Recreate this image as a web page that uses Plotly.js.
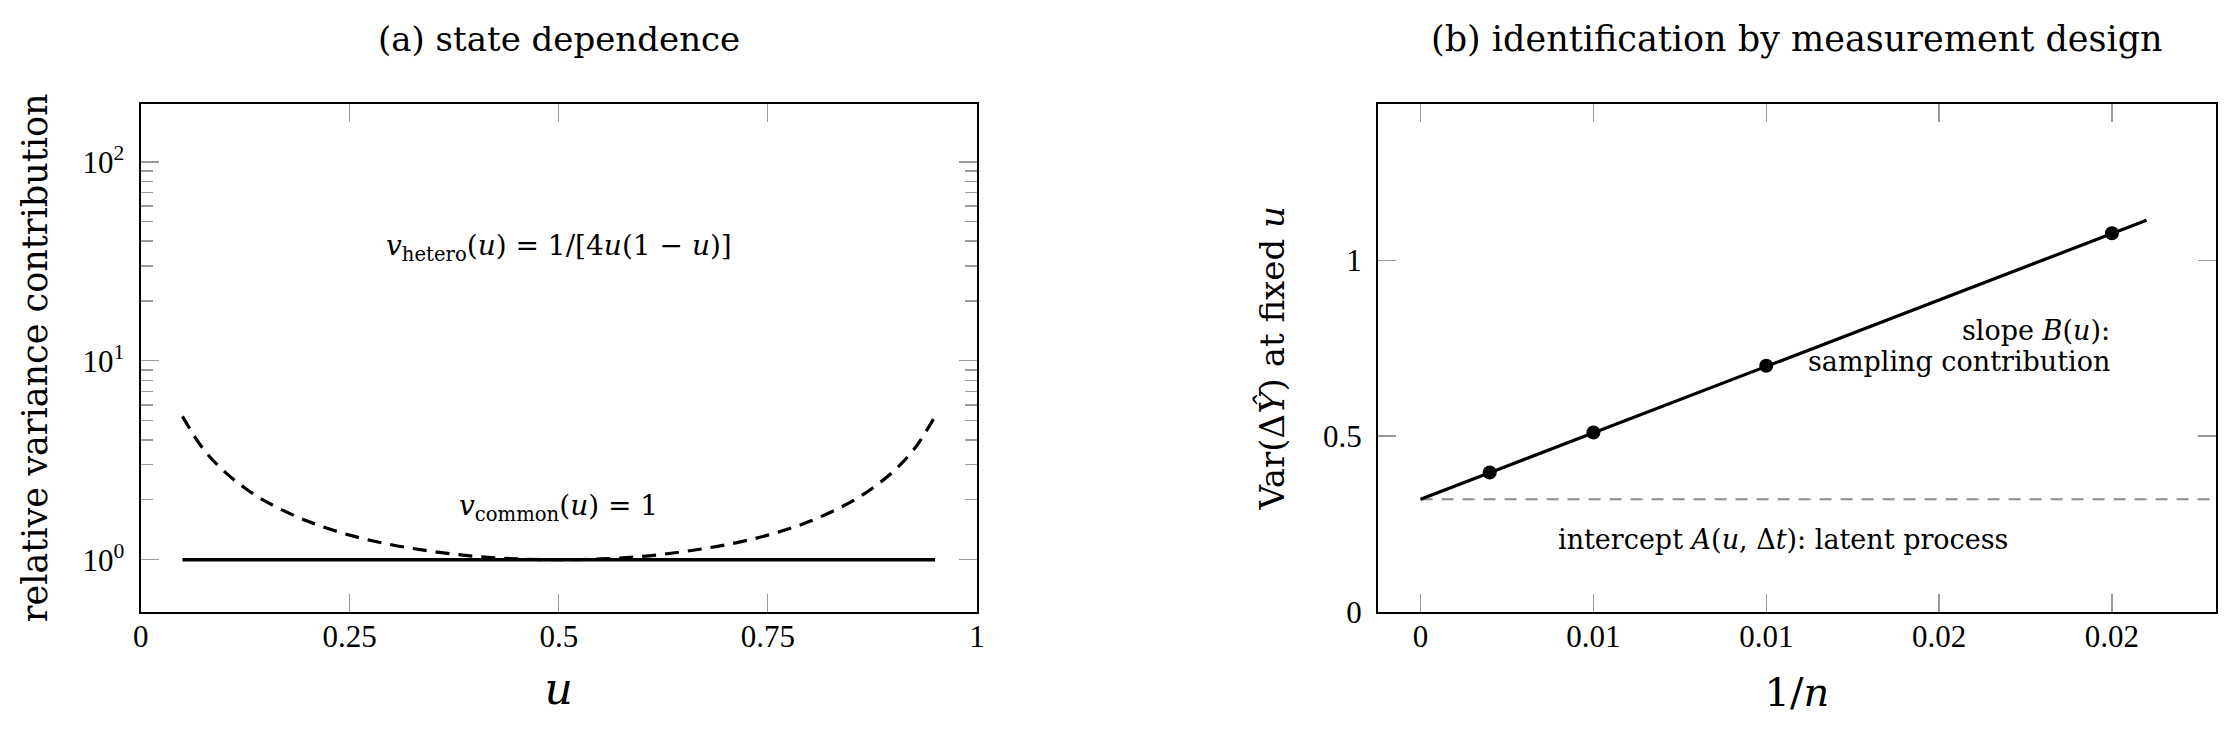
<!DOCTYPE html>
<html>
<head>
<meta charset="utf-8">
<script src="https://cdn.plot.ly/plotly-3.0.1.min.js"></script>
<style>
  html, body { margin: 0; padding: 0; background: #fff; }
  #chart { width: 2236px; height: 733px; }
</style>
</head>
<body>
<div id="chart"></div>
<script>
// (a) state dependence: values
var uVals = [0.05, 0.075, 0.1, 0.125, 0.15, 0.2, 0.25, 0.3, 0.35, 0.4, 0.45, 0.5,
             0.55, 0.6, 0.65, 0.7, 0.75, 0.8, 0.85, 0.875, 0.9, 0.925, 0.95];
var vHetero = [5.26, 3.60, 2.78, 2.29, 1.96, 1.56, 1.33, 1.19, 1.10, 1.04, 1.01, 1.00,
               1.01, 1.04, 1.10, 1.19, 1.33, 1.56, 1.96, 2.29, 2.78, 3.60, 5.26];
var uCommon = [0.05, 0.95];
var vCommon = [1, 1];

// (b) identification by measurement design
var invN = [0.002, 0.005, 0.01, 0.02];
var varDY = [0.396, 0.51, 0.70, 1.077];
var fitX = [0, 0.021];
var fitY = [0.32, 1.114];
var interceptX = [0, 0.023];
var interceptY = [0.32, 0.32];

var xTicksA = [0, 0.25, 0.5, 0.75, 1];
var xLabelsA = ['0', '0.25', '0.5', '0.75', '1'];
var yTicksA = [1, 10, 100];
var yLabelsA = ['10<sup>0</sup>', '10<sup>1</sup>', '10<sup>2</sup>'];
var yMinorA = [2, 3, 4, 5, 6, 7, 8, 9, 20, 30, 40, 50, 60, 70, 80, 90];
var xTicksB = [0, 0.005, 0.01, 0.015, 0.02];
var xLabelsB = ['0', '0.01', '0.01', '0.02', '0.02'];
var yTicksB = [0, 0.5, 1];
var yLabelsB = ['0', '0.5', '1'];

var TXT = 'DejaVu Serif, serif';
var NUM = 'Liberation Serif, serif';

var data = [
  { x: uVals, y: vHetero, xaxis: 'x', yaxis: 'y', type: 'scatter', mode: 'lines',
    line: { color: 'black', width: 3.2, dash: '14px,9px', shape: 'spline' }, hoverinfo: 'skip' },
  { x: uCommon, y: vCommon, xaxis: 'x', yaxis: 'y', type: 'scatter', mode: 'lines',
    line: { color: 'black', width: 3.4 }, hoverinfo: 'skip' },
  { x: interceptX, y: interceptY, xaxis: 'x2', yaxis: 'y2', type: 'scatter', mode: 'lines',
    line: { color: '#8c8c8c', width: 1.8, dash: '12px,9px' }, hoverinfo: 'skip' },
  { x: fitX, y: fitY, xaxis: 'x2', yaxis: 'y2', type: 'scatter', mode: 'lines',
    line: { color: 'black', width: 3.2 }, hoverinfo: 'skip' },
  { x: invN, y: varDY, xaxis: 'x2', yaxis: 'y2', type: 'scatter', mode: 'markers',
    marker: { color: 'black', size: 14 }, hoverinfo: 'skip' }
];

var axBase = {
  showline: true, linecolor: 'black', linewidth: 2, mirror: 'allticks',
  ticks: 'inside', ticklen: 18, tickwidth: 1.3, tickcolor: '#9a9a9a',
  showgrid: false, zeroline: false, fixedrange: true,
  tickfont: { family: NUM, size: 31, color: 'black' }
};
function ax(o) { return Object.assign({}, axBase, o); }

var layout = {
  width: 2236, height: 733,
  margin: { l: 0, r: 0, t: 0, b: 0 },
  paper_bgcolor: 'white', plot_bgcolor: 'white',
  showlegend: false,
  xaxis: ax({ domain: [0.0629, 0.4369], range: [0, 1], tickmode: 'array',
    tickvals: xTicksA, ticktext: xLabelsA, anchor: 'y', ticklabelstandoff: -4,
    title: { text: '<i>u</i>', font: { family: TXT, size: 44, color: 'black' }, standoff: 20 } }),
  yaxis: ax({ domain: [0.1655, 0.8581], type: 'log', range: [-0.261, 2.291],
    tickmode: 'array', tickvals: yTicksA, ticktext: yLabelsA, anchor: 'x', ticklabelstandoff: 8,
    minor: { tickvals: yMinorA, ticks: 'inside', ticklen: 12, tickwidth: 1.2, tickcolor: '#9a9a9a', showgrid: false },
    title: { text: 'relative variance contribution', font: { family: TXT, size: 35, color: 'black' }, standoff: 24 } }),
  xaxis2: ax({ domain: [0.6163, 0.9909], range: [-0.00123, 0.0230], tickmode: 'array',
    tickvals: xTicksB, ticktext: xLabelsB, anchor: 'y2', ticklabelstandoff: -4,
    title: { text: '1/<i>n</i>', font: { family: TXT, size: 40, color: 'black' }, standoff: 25 } }),
  yaxis2: ax({ domain: [0.1655, 0.8581], range: [0, 1.445], tickmode: 'array',
    tickvals: yTicksB, ticktext: yLabelsB, anchor: 'x2', ticklabelstandoff: 8,
    title: { text: 'Var(\u0394<i>Y\u0302</i>) at fixed <i>u</i>', font: { family: TXT, size: 34, color: 'black' }, standoff: 28 } }),
  annotations: [
    { xref: 'paper', yref: 'paper', x: 0.25, y: 0.947, text: '(a) state dependence',
      showarrow: false, xanchor: 'center', yanchor: 'middle', font: { family: TXT, size: 34, color: 'black' } },
    { xref: 'paper', yref: 'paper', x: 0.8037, y: 0.947, text: '(b) identification by measurement design',
      showarrow: false, xanchor: 'center', yanchor: 'middle', font: { family: TXT, size: 35, color: 'black' } },
    { xref: 'x', yref: 'y', x: 0.5, y: 1.568,
      text: '<i>v</i><sub>hetero</sub>(<i>u</i>) = 1/[4<i>u</i>(1 \u2212 <i>u</i>)]',
      showarrow: false, xanchor: 'center', yanchor: 'middle', font: { family: TXT, size: 28, color: 'black' } },
    { xref: 'x', yref: 'y', x: 0.5, y: 0.261,
      text: '<i>v</i><sub>common</sub>(<i>u</i>) = 1',
      showarrow: false, xanchor: 'center', yanchor: 'middle', font: { family: TXT, size: 28, color: 'black' } },
    { xref: 'x2', yref: 'y2', x: 0.02, y: 0.80, text: 'slope <i>B</i>(<i>u</i>):',
      showarrow: false, xanchor: 'right', yanchor: 'middle', font: { family: TXT, size: 27, color: 'black' } },
    { xref: 'x2', yref: 'y2', x: 0.02, y: 0.713, text: 'sampling contribution',
      showarrow: false, xanchor: 'right', yanchor: 'middle', font: { family: TXT, size: 27, color: 'black' } },
    { xref: 'x2', yref: 'y2', x: 0.01047, y: 0.205,
      text: 'intercept <i>A</i>(<i>u</i>, \u0394<i>t</i>): latent process',
      showarrow: false, xanchor: 'center', yanchor: 'middle', font: { family: TXT, size: 27, color: 'black' } }
  ]
};

Plotly.newPlot('chart', data, layout, { staticPlot: true, displayModeBar: false });
</script>
</body>
</html>
